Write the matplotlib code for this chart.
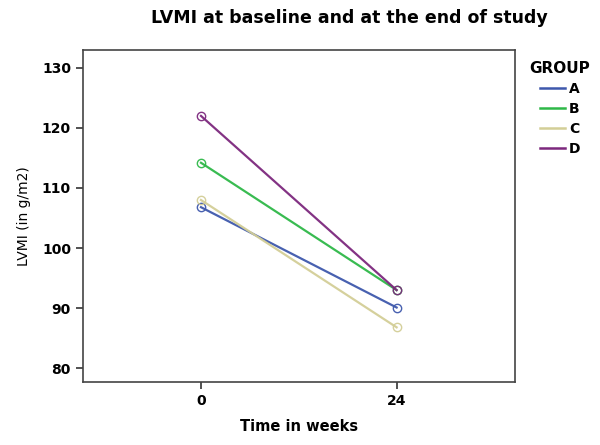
import matplotlib
matplotlib.use("Agg")
import matplotlib.pyplot as plt
from matplotlib.lines import Line2D

weeks = [0, 24]
groups = ["A", "B", "C", "D"]
values_A = [106.8, 90.1]
values_B = [114.2, 93.0]
values_C = [108.0, 86.8]
values_D = [122.0, 93.0]
colors = ["#3E58AC", "#2EB848", "#D3CE97", "#7C287D"]
yticks = [80, 90, 100, 110, 120, 130]

fig = plt.figure(figsize=(6, 4.45), dpi=100)
ax = fig.add_axes([0.138, 0.1416, 0.72, 0.7464])

for vals, c in zip([values_A, values_B, values_C, values_D], colors):
    ax.plot(weeks, vals, color=c, lw=1.6, marker="o", ms=6, mfc="none", mec=c, mew=1.0, alpha=0.95)

ax.set_xlim(-14.5, 38.5)
ax.set_ylim(77.7, 133)
ax.set_xticks(weeks)
ax.set_xticklabels([str(w) for w in weeks], fontweight="bold", fontsize=10)
ax.set_yticks(yticks)
ax.set_yticklabels([str(t) for t in yticks], fontweight="bold", fontsize=10)
ax.tick_params(direction="out", length=5, width=1.2, color="#333333")
for s in ax.spines.values():
    s.set_color("#444444")
    s.set_linewidth(1.2)

ax.set_xlabel("Time in weeks", fontweight="bold", fontsize=10.5, labelpad=8)
ax.set_ylabel("LVMI (in g/m2)", fontsize=10, labelpad=8)
fig.text(0.583, 0.96, "LVMI at baseline and at the end of study", ha="center", va="center",
         fontweight="bold", fontsize=12.5)

handles = [Line2D([0], [0], color=c, lw=1.8) for c in colors]
leg = fig.legend(handles, groups, title="GROUP", loc="upper left", bbox_to_anchor=(0.862, 0.89),
                 frameon=False, handlelength=1.8, handletextpad=0.3, labelspacing=0.42,
                 prop={"weight": "bold", "size": 10}, title_fontproperties={"weight": "bold", "size": 11})

fig.savefig("out.png", dpi=100)
